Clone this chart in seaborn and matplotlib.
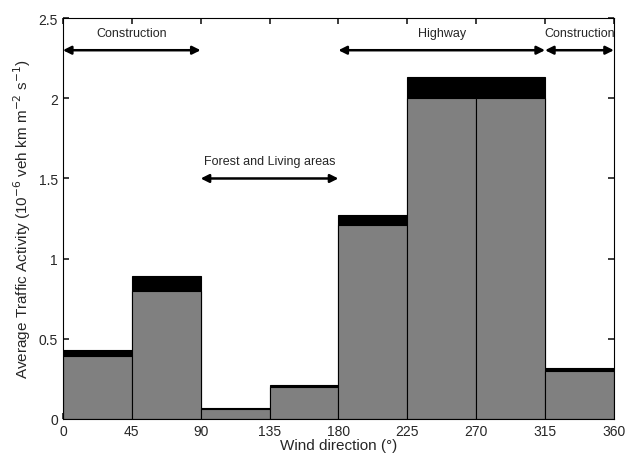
import numpy as np
import matplotlib
matplotlib.use("Agg")
import matplotlib.pyplot as plt
import seaborn as sns

sns.set_theme(style="ticks")
plt.rcParams['font.family'] = ['Liberation Sans', 'DejaVu Sans']

bin_left = [0, 45, 90, 135, 180, 225, 270, 315]
gray_vals = [0.39, 0.80, 0.06, 0.20, 1.21, 2.00, 2.00, 0.30]
total_vals = [0.43, 0.89, 0.07, 0.21, 1.27, 2.13, 2.13, 0.32]
xticks = [0, 45, 90, 135, 180, 225, 270, 315, 360]
arrows = [(0, 90, 2.3, "Construction", 2.41), (180, 315, 2.3, "Highway", 2.41),
          (315, 360, 2.3, "Construction", 2.41), (90, 180, 1.5, "Forest and Living areas", 1.61)]

fig, ax = plt.subplots(figsize=(6.29, 4.56), dpi=100)
fig.subplots_adjust(left=0.1, right=0.976, top=0.958, bottom=0.079)

ax.bar(bin_left, total_vals, width=45, align="edge", color="black", edgecolor="black", linewidth=0.8)
ax.bar(bin_left, gray_vals, width=45, align="edge", color="#808080", edgecolor="black", linewidth=0.8)

for x0, x1, y, label, ty in arrows:
    ax.annotate("", xy=(x0, y), xytext=(x1, y),
                arrowprops=dict(arrowstyle="<|-|>", color="black", lw=1.8, mutation_scale=12,
                                shrinkA=0, shrinkB=0))
    ax.text((x0 + x1) / 2, ty, label, ha="center", va="center", fontsize=9)

ax.set_xlim(0, 360)
ax.set_ylim(0, 2.5)
ax.set_xticks(xticks)
ax.set_yticks([0, 0.5, 1, 1.5, 2, 2.5])
ax.set_yticklabels(["0", "0.5", "1", "1.5", "2", "2.5"])
ax.tick_params(direction="in", labelsize=10, length=4, top=True, right=True)
ax.set_xlabel("Wind direction (°)", fontsize=11, labelpad=0)
ax.set_ylabel(r"Average Traffic Activity (10$^{-6}$ veh km m$^{-2}$ s$^{-1}$)", fontsize=11)
for s in ax.spines.values():
    s.set_color("black")
    s.set_linewidth(0.8)

fig.savefig("out.png", dpi=100)
